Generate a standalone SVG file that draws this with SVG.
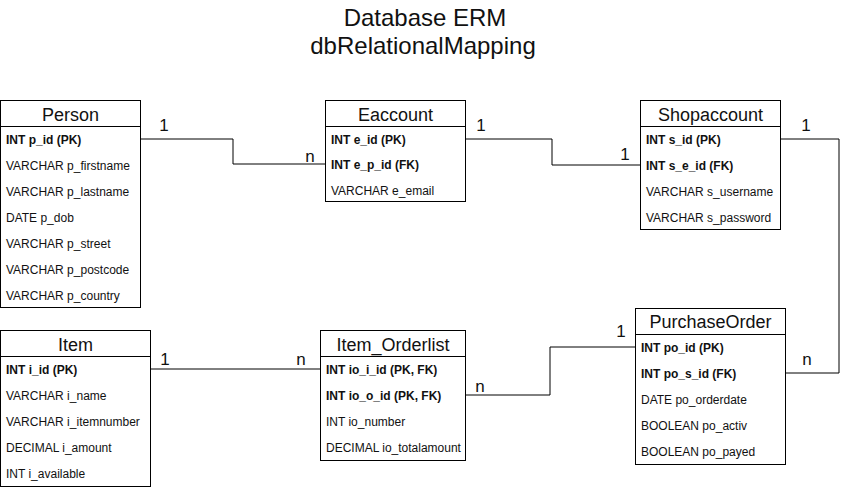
<svg xmlns="http://www.w3.org/2000/svg" width="842" height="489" viewBox="0 0 842 489">
<style>
  text { font-family: "Liberation Sans", Arial, sans-serif; fill: #111; }
  .title { font-size: 24px; text-anchor: middle; }
  .head { font-size: 18px; text-anchor: middle; }
  .row { font-size: 12px; }
  .key { font-size: 12px; font-weight: bold; }
  .card { font-size: 17px; text-anchor: middle; }
  .box { fill: #fff; stroke: #000; stroke-width: 1; }
  .sep { stroke: #000; stroke-width: 1; }
  .conn { fill: none; stroke: #000; stroke-width: 1; }
</style>
<rect width="842" height="489" fill="#fff"/>
<g id="title">
  <text class="title" x="425" y="26">Database ERM</text>
  <text class="title" x="423" y="54">dbRelationalMapping</text>
</g>
<g id="connectors">
  <path class="conn" d="M140.5,139 H233 V164 H325"/>
  <path class="conn" d="M465.5,139 H552 V165 H640"/>
  <path class="conn" d="M780.5,139 H839 V373 H785"/>
  <path class="conn" d="M150.5,369 H320"/>
  <path class="conn" d="M465.5,395 H550 V347 H636"/>
  <text class="card" x="164" y="131">1</text>
  <text class="card" x="310" y="162">n</text>
  <text class="card" x="481" y="131">1</text>
  <text class="card" x="625" y="160">1</text>
  <text class="card" x="806" y="131">1</text>
  <text class="card" x="807" y="365">n</text>
  <text class="card" x="165" y="365">1</text>
  <text class="card" x="301" y="365">n</text>
  <text class="card" x="480" y="392">n</text>
  <text class="card" x="621" y="337">1</text>
</g>
<g id="Person">
  <rect class="box" x="0.5" y="100.5" width="140" height="207"/>
  <line class="sep" x1="0.5" y1="126.5" x2="140.5" y2="126.5"/>
  <text class="head" x="70.5" y="121">Person</text>
  <text class="key" x="6" y="143.5">INT p_id (PK)</text>
  <text class="row" x="6" y="169.5">VARCHAR p_firstname</text>
  <text class="row" x="6" y="195.5">VARCHAR p_lastname</text>
  <text class="row" x="6" y="221.5">DATE p_dob</text>
  <text class="row" x="6" y="247.5">VARCHAR p_street</text>
  <text class="row" x="6" y="273.5">VARCHAR p_postcode</text>
  <text class="row" x="6" y="299.5">VARCHAR p_country</text>
</g>
<g id="Eaccount">
  <rect class="box" x="325.5" y="100.5" width="140" height="101"/>
  <line class="sep" x1="325.5" y1="126.5" x2="465.5" y2="126.5"/>
  <text class="head" x="395.5" y="121">Eaccount</text>
  <text class="key" x="331" y="143.5">INT e_id (PK)</text>
  <text class="key" x="331" y="169">INT e_p_id (FK)</text>
  <text class="row" x="331" y="194.5">VARCHAR e_email</text>
</g>
<g id="Shopaccount">
  <rect class="box" x="640.5" y="100.5" width="140" height="129"/>
  <line class="sep" x1="640.5" y1="126.5" x2="780.5" y2="126.5"/>
  <text class="head" x="710.5" y="121">Shopaccount</text>
  <text class="key" x="646" y="143.5">INT s_id (PK)</text>
  <text class="key" x="646" y="169.5">INT s_e_id (FK)</text>
  <text class="row" x="646" y="195.5">VARCHAR s_username</text>
  <text class="row" x="646" y="221.5">VARCHAR s_password</text>
</g>
<g id="Item">
  <rect class="box" x="0.5" y="330.5" width="150" height="156"/>
  <line class="sep" x1="0.5" y1="356.5" x2="150.5" y2="356.5"/>
  <text class="head" x="75.5" y="351">Item</text>
  <text class="key" x="6" y="373.5">INT i_id (PK)</text>
  <text class="row" x="6" y="399.5">VARCHAR i_name</text>
  <text class="row" x="6" y="425.5">VARCHAR i_itemnumber</text>
  <text class="row" x="6" y="451.5">DECIMAL i_amount</text>
  <text class="row" x="6" y="477.5">INT i_available</text>
</g>
<g id="Item_Orderlist">
  <rect class="box" x="320.5" y="330.5" width="145" height="130"/>
  <line class="sep" x1="320.5" y1="356.5" x2="465.5" y2="356.5"/>
  <text class="head" x="393" y="351">Item_Orderlist</text>
  <text class="key" x="326" y="373.5">INT io_i_id (PK, FK)</text>
  <text class="key" x="326" y="399.5">INT io_o_id (PK, FK)</text>
  <text class="row" x="326" y="425.5">INT io_number</text>
  <text class="row" x="326" y="451.5">DECIMAL io_totalamount</text>
</g>
<g id="PurchaseOrder">
  <rect class="box" x="635.5" y="308.5" width="150" height="156"/>
  <line class="sep" x1="635.5" y1="334.5" x2="785.5" y2="334.5"/>
  <text class="head" x="710.5" y="328">PurchaseOrder</text>
  <text class="key" x="641" y="352">INT po_id (PK)</text>
  <text class="key" x="641" y="378">INT po_s_id (FK)</text>
  <text class="row" x="641" y="404">DATE po_orderdate</text>
  <text class="row" x="641" y="430">BOOLEAN po_activ</text>
  <text class="row" x="641" y="456">BOOLEAN po_payed</text>
</g>
</svg>
